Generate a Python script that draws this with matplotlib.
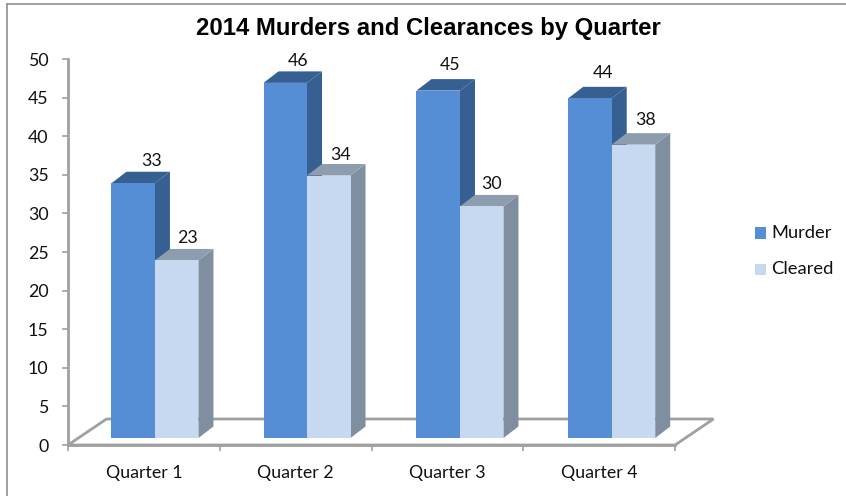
import matplotlib
matplotlib.use('Agg')
import matplotlib.pyplot as plt
from matplotlib.patches import Polygon, Rectangle

quarters = ['Quarter 1', 'Quarter 2', 'Quarter 3', 'Quarter 4']
murder = [33, 46, 45, 44]
cleared = [23, 34, 30, 38]
yticks = [0, 5, 10, 15, 20, 25, 30, 35, 40, 45, 50]

W, H = 846, 496
fig = plt.figure(figsize=(W / 100, H / 100), dpi=100)
plt.rcParams['font.family'] = ['Lato', 'DejaVu Sans']

# axes box is the front edge of the floor, in pixels of the picture
left, right, top, bottom = 68, 675, 59, 445
ax = fig.add_axes([left / W, 1 - bottom / H, (right - left) / W, (bottom - top) / H])
ax.set_xlim(0, 4)
ax.set_ylim(0, 50)
ax.patch.set_alpha(0)

grey = '#a0a0a0'
txt = '#111111'
fs = 12.8
ux = (right - left) / 4      # pixels per category
uy = (bottom - top) / 50     # pixels per value
dx = 15 / ux                 # bar depth
dy = 11.5 / uy
base = 7 / uy                # bars stand a little behind the front edge
bw = 43.5 / ux
centers = [0.573, 1.575, 2.583, 3.583]   # middle of each pair

# the labels were placed by hand in the original, nudges in pixels
nudge_m = [(2, 1), (-4, 2), (-5, -2), (-4, -2)]
nudge_c = [(-1, 1), (0, 3), (-2, 1), (1, -1)]

# floor
fx = 38.5 / ux
fy = 26 / uy
ax.add_patch(Polygon([(0, 0), (fx, fy), (4 + fx, fy), (4, 0)], closed=True, fill=False,
                     edgecolor=grey, linewidth=2.0, clip_on=False, joinstyle='miter', zorder=1))


def bar3d(x, v, front, side, topc):
    y0 = base
    y1 = base + v
    ax.add_patch(Polygon([(x + bw, y0), (x + bw + dx, y0 + dy), (x + bw + dx, y1 + dy), (x + bw, y1)],
                         closed=True, facecolor=side, edgecolor='none', clip_on=False, zorder=3))
    ax.add_patch(Polygon([(x, y1), (x + dx, y1 + dy), (x + bw + dx, y1 + dy), (x + bw, y1)],
                         closed=True, facecolor=topc, edgecolor='none', clip_on=False, zorder=3))
    ax.add_patch(Rectangle((x, y0), bw, v, facecolor=front, edgecolor='none', clip_on=False, zorder=3))


for i in range(4):
    c = centers[i]
    bar3d(c - bw, murder[i], '#558ed5', '#376092', '#376092')
    bar3d(c, cleared[i], '#c6d9f1', '#7f8fa0', '#8e9dae')
    ax.text(c - bw / 2 + 0.11 + nudge_m[i][0] / ux, murder[i] + base + dy + 1.55 - nudge_m[i][1] / uy,
            str(murder[i]), ha='center', va='center', fontsize=fs, color=txt, zorder=5)
    ax.text(c + bw / 2 + 0.075 + nudge_c[i][0] / ux, cleared[i] + base + dy + 1.55 - nudge_c[i][1] / uy,
            str(cleared[i]), ha='center', va='center', fontsize=fs, color=txt, zorder=5)

ax.set_xticks(range(5))
ax.set_xticklabels([])
ax.set_yticks(yticks)
ax.tick_params(axis='y', length=4, width=1.2, color=grey, labelsize=fs, pad=10, labelcolor=txt)
ax.tick_params(axis='x', length=4, width=1.2, color=grey)
for i, q in enumerate(quarters):
    ax.text(i + 0.5, -3.65, q, ha='center', va='center', fontsize=fs, color=txt)

for s in ['top', 'right']:
    ax.spines[s].set_visible(False)
for s in ['left', 'bottom']:
    ax.spines[s].set_color(grey)
    ax.spines[s].set_linewidth(2.0)

fig.text(428 / W, 1 - 28 / H, '2014 Murders and Clearances by Quarter', ha='center', va='center',
         fontsize=17.2, fontweight='bold', family=['Liberation Sans'], color='#000000')

# legend drawn by hand to sit where the original has it
for yp, name, col in [(233, 'Murder', '#558ed5'), (269.5, 'Cleared', '#c6d9f1')]:
    fig.patches.append(Rectangle((755 / W, 1 - (yp + 5.5) / H), 11 / W, 11 / H, transform=fig.transFigure,
                                 facecolor=col, edgecolor='none'))
    fig.text(771 / W, 1 - yp / H, name, ha='left', va='center', fontsize=13.2, color=txt)

# outer frame of the chart
fig.add_artist(plt.Line2D([7 / W, 7 / W], [0, 1 - 4 / H], color='#909090', linewidth=1.2))
fig.add_artist(plt.Line2D([7 / W, 1], [1 - 4 / H, 1 - 4 / H], color='#909090', linewidth=1.2))

fig.savefig('out.png', dpi=100)
